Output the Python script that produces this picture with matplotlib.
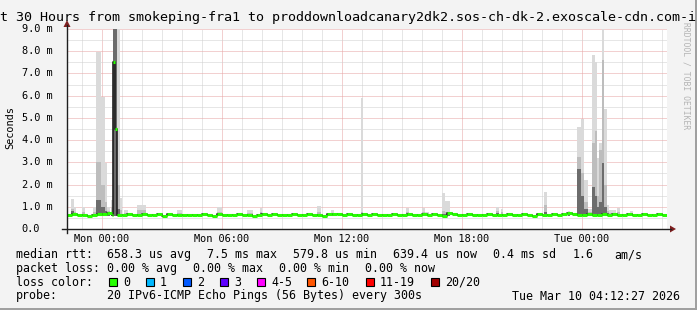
import numpy as np
import matplotlib
matplotlib.use('Agg')
import matplotlib.pyplot as plt
from matplotlib.patches import Rectangle, Polygon
from matplotlib.lines import Line2D
import matplotlib.transforms as mtransforms

# ---- data (hours relative to Mon 00:00, values in ms) ----
t_start = -1.75
step_h = 0.25
median_ms = [
    0.63, 0.66, 0.62, 0.65, 0.60, 0.64, 0.66, 0.68, 0.70, 0.65, 0.62, 0.64,
    0.66, 0.65, 0.64, 0.66, 0.62, 0.65, 0.66, 0.60, 0.66, 0.64, 0.65, 0.63,
    0.61, 0.65, 0.62, 0.66, 0.64, 0.59, 0.66, 0.65, 0.62, 0.64, 0.66, 0.65,
    0.64, 0.60, 0.65, 0.66, 0.63, 0.66, 0.61, 0.65, 0.64, 0.66, 0.62, 0.65,
    0.66, 0.64, 0.65, 0.60, 0.66, 0.67, 0.66, 0.64, 0.66, 0.63, 0.65, 0.66,
    0.64, 0.66, 0.62, 0.65, 0.65, 0.66, 0.64, 0.65, 0.66, 0.64, 0.62, 0.66,
    0.65, 0.66, 0.64, 0.59, 0.70, 0.66, 0.64, 0.65, 0.66, 0.63, 0.65, 0.64,
    0.66, 0.64, 0.65, 0.63, 0.66, 0.65, 0.64, 0.66, 0.65, 0.59, 0.66, 0.65,
    0.64, 0.66, 0.65, 0.68, 0.72, 0.66, 0.64, 0.65, 0.66, 0.64, 0.65, 0.66,
    0.64, 0.66, 0.65, 0.63, 0.66, 0.65, 0.64, 0.66, 0.62, 0.65, 0.66, 0.64,
]
burst_t = [0.583, 0.667]
burst_ms = [7.5, 4.5]

# smoke columns: start (h), length (h), tops of light / mid / dark bands (ms)
smoke_t = [-1.54, -1.39, -0.99, -0.44, -0.29, -0.04, 0.14, 0.27, 0.47, 0.57,
           0.75, 0.89, 1.12, 1.75, 3.77, 5.75, 7.25, 7.92, 10.75, 11.47,
           12.94, 15.22, 16.0, 16.17, 17.0, 17.14, 19.72, 19.97, 22.12, 23.32,
           23.78, 23.97, 24.12, 24.32, 24.49, 24.64, 24.75, 24.88, 25.0, 25.13,
           25.25, 25.37, 25.75, 26.42]
smoke_len = [0.15, 0.1, 0.15, 0.15, 0.25, 0.18, 0.13, 0.15, 0.1, 0.18,
             0.14, 0.13, 0.2, 0.47, 0.25, 0.27, 0.32, 0.1, 0.22, 0.15,
             0.13, 0.15, 0.17, 0.2, 0.14, 0.28, 0.15, 0.1, 0.15, 0.1,
             0.19, 0.15, 0.2, 0.18, 0.15, 0.11, 0.13, 0.12, 0.13, 0.12,
             0.12, 0.35, 0.17, 0.15]
smoke_light = [1.35, 1.0, 1.0, 1.0, 7.95, 5.95, 2.97, 1.0, 1.3, 9.5,
               9.5, 1.4, 0.85, 1.08, 0.85, 1.0, 0.85, 0.95, 1.03, 0.85,
               5.9, 0.93, 0.95, 0.78, 1.63, 1.26, 0.98, 0.9, 1.68, 0.8,
               4.6, 4.95, 2.2, 0.9, 7.83, 7.5, 3.2, 3.88, 9.5, 5.4,
               1.08, 0.85, 0.93, 0.8]
smoke_mid = [0.9, 0.75, 0.75, 0.75, 3.0, 2.0, 1.2, 0.8, 1.0, 9.5,
             2.0, 0.85, 0.7, 0.85, 0.7, 0.75, 0.7, 0.75, 0.75, 0.7,
             0.75, 0.75, 0.75, 0.7, 0.8, 0.75, 0.8, 0.75, 1.1, 0.7,
             3.25, 2.5, 1.2, 0.75, 3.87, 4.4, 1.5, 3.55, 7.6, 2.0,
             0.8, 0.7, 0.75, 0.7]
smoke_dark = [0.8, 0.66, 0.66, 0.66, 1.3, 1.0, 0.8, 0.66, 0.7, 9.5,
              0.9, 0.66, 0.66, 0.66, 0.66, 0.66, 0.66, 0.7, 0.66, 0.66,
              0.66, 0.66, 0.66, 0.66, 0.66, 0.66, 0.7, 0.66, 0.75, 0.7,
              2.7, 1.5, 0.9, 0.66, 1.9, 1.5, 1.0, 1.2, 2.97, 1.0,
              0.7, 0.66, 0.66, 0.66]
smoke_floor = 0.58

x_ticks = [0, 6, 12, 18, 24]
x_labels = ['Mon 00:00', 'Mon 06:00', 'Mon 12:00', 'Mon 18:00', 'Tue 00:00']
y_ticks = [0, 1, 2, 3, 4, 5, 6, 7, 8, 9]

title = 'Last 30 Hours from smokeping-fra1 to proddownloadcanary2dk2.sos-ch-dk-2.exoscale-cdn.com-ipv6'
stats_rtt = ['median rtt:', '658.3 us avg', '7.5 ms max', '579.8 us min',
             '639.4 us now', '0.4 ms sd', '1.6', 'am/s']
stats_loss = ['packet loss:', '0.00 % avg', '0.00 % max', '0.00 % min', '0.00 % now']
loss_labels = ['0', '1', '2', '3', '4-5', '6-10', '11-19', '20/20']
loss_colors = ['#26ff00', '#00b8ff', '#0059ff', '#5e00ff', '#ff00ff',
               '#ff5500', '#ff0000', '#a10000']
probe_text = '20 IPv6-ICMP Echo Pings (56 Bytes) every 300s'
stamp = 'Tue Mar 10 04:12:27 2026'

# ---- figure ----
W, H = 697, 310
mono = 'DejaVu Sans Mono'
fig = plt.figure(figsize=(W / 100, H / 100), dpi=100, facecolor='#f3f3f3')


def fx(px):
    return px / W


def fy(py):
    return 1 - py / H


ax = fig.add_axes([fx(67), fy(229), fx(600), 200 / H], facecolor='white')
x0, x1 = -1.735, 28.265
ax.set_xlim(x0, x1)
ax.set_ylim(0, 9.0)
for s in ax.spines.values():
    s.set_visible(False)
ax.set_xticks([])
ax.set_yticks([])

# grid
dots = (0, (1, 1))
for h in np.arange(-1, 29):
    major = h % 6 == 0
    ax.axvline(h, color='#e7a3a3' if major else '#cfcfcf', lw=0.72, ls=dots, zorder=1)
for v in np.arange(0.5, 9.01, 0.5):
    major = abs(v - round(v)) < 1e-6
    ax.axhline(v, color='#e7a3a3' if major else '#cfcfcf', lw=0.72, ls=dots, zorder=1)

# smoke
for t, ln, lt, md, dk in zip(smoke_t, smoke_len, smoke_light, smoke_mid, smoke_dark):
    ax.bar(t, lt - smoke_floor, width=ln, bottom=smoke_floor, align='edge',
           color='#dadada', lw=0, zorder=2)
    ax.bar(t, md - smoke_floor, width=ln, bottom=smoke_floor, align='edge',
           color='#bdbdbd', lw=0, zorder=2)
    ax.bar(t, dk - smoke_floor, width=ln, bottom=smoke_floor, align='edge',
           color='#6c6c6c', lw=0, zorder=2)

# median line
bins = t_start + step_h * np.arange(len(median_ms))
starts = np.concatenate([bins, burst_t])
vals = np.concatenate([median_ms, burst_ms])
order = np.argsort(starts, kind='stable')
starts, vals = starts[order], vals[order]
ends = np.append(starts[1:], t_start + step_h * len(median_ms))
ax.step(np.append(starts, ends[-1]), np.append(vals, vals[-1]), where='post',
        color='#202020', lw=1.2, zorder=3)
ax.hlines(vals, starts, ends, color=loss_colors[0], lw=2.2, zorder=4)

# axes lines and arrows
axis_col = '#1f1f1f'
arrow_col = '#7f1f1f'
fig.add_artist(Line2D([fx(62), fx(671)], [fy(229), fy(229)], color=axis_col, lw=1.0))
fig.add_artist(Line2D([fx(67), fx(67)], [fy(233), fy(25)], color=axis_col, lw=1.0))
fig.add_artist(Polygon([[fx(670), fy(225.5)], [fx(676), fy(229)], [fx(670), fy(232.5)]],
                       closed=True, color=arrow_col, lw=0))
fig.add_artist(Polygon([[fx(63.5), fy(27)], [fx(67), fy(20)], [fx(70.5), fy(27)]],
                       closed=True, color=arrow_col, lw=0))

# tick labels
bx = mtransforms.blended_transform_factory(ax.transData, fig.transFigure)
for t, lab in zip(x_ticks, x_labels):
    fig.text(t, fy(238.5), lab, transform=bx, ha='center', va='center',
             family=mono, size=7.4)
by = mtransforms.blended_transform_factory(fig.transFigure, ax.transData)
for v in y_ticks:
    lab = '0.0' if v == 0 else '%.1f m' % v
    fig.text(fx(21.5), v, lab, transform=by, ha='left', va='center',
             family=mono, size=7.4)

fig.text(fx(10), fy(128), 'Seconds', rotation=90, ha='center', va='center',
         family=mono, size=7.4)

# title and watermark
fig.text(0.5, fy(17), title, ha='center', va='center', family=mono, size=9.6)
fig.text(fx(686), fy(22), 'RRDTOOL / TOBI OETIKER', rotation=270, ha='center',
         va='top', family=mono, size=5.8, color='#b4b4b4')

# legend
rtt_x = [16, 107, 207, 293, 393, 493, 573, 614]
for x, s in zip(rtt_x, stats_rtt):
    fig.text(fx(x), fy(254.5), s, ha='left', va='center', family=mono, size=8.35)
loss_x = [16, 107, 193, 279, 365]
for x, s in zip(loss_x, stats_loss):
    fig.text(fx(x), fy(268.5), s, ha='left', va='center', family=mono, size=8.35)
fig.text(fx(16), fy(282), 'loss color:', ha='left', va='center', family=mono, size=8.35)
box_x = [108.5, 145.5, 182.5, 219.5, 256.5, 306.5, 365.5, 430.5]
for x, lab, c in zip(box_x, loss_labels, loss_colors):
    fig.add_artist(Rectangle((fx(x), fy(286)), fx(8), 8 / H, facecolor=c,
                             edgecolor='black', lw=0.8))
    fig.text(fx(x + 14.5), fy(282), lab, ha='left', va='center', family=mono, size=8.35)
fig.text(fx(16), fy(296), 'probe:', ha='left', va='center', family=mono, size=8.35)
fig.text(fx(107), fy(296), probe_text, ha='left', va='center', family=mono, size=8.35)
fig.text(fx(680), fy(296), stamp, ha='right', va='center', family=mono, size=8.35)

# frame shading
fig.add_artist(Rectangle((0, 0), 1, 2 / H, facecolor='#a0a0a0', lw=0))
fig.add_artist(Rectangle((1 - 2 / W, 0), 2 / W, 1, facecolor='#a0a0a0', lw=0))

fig.savefig('out.png', dpi=100, facecolor=fig.get_facecolor())
